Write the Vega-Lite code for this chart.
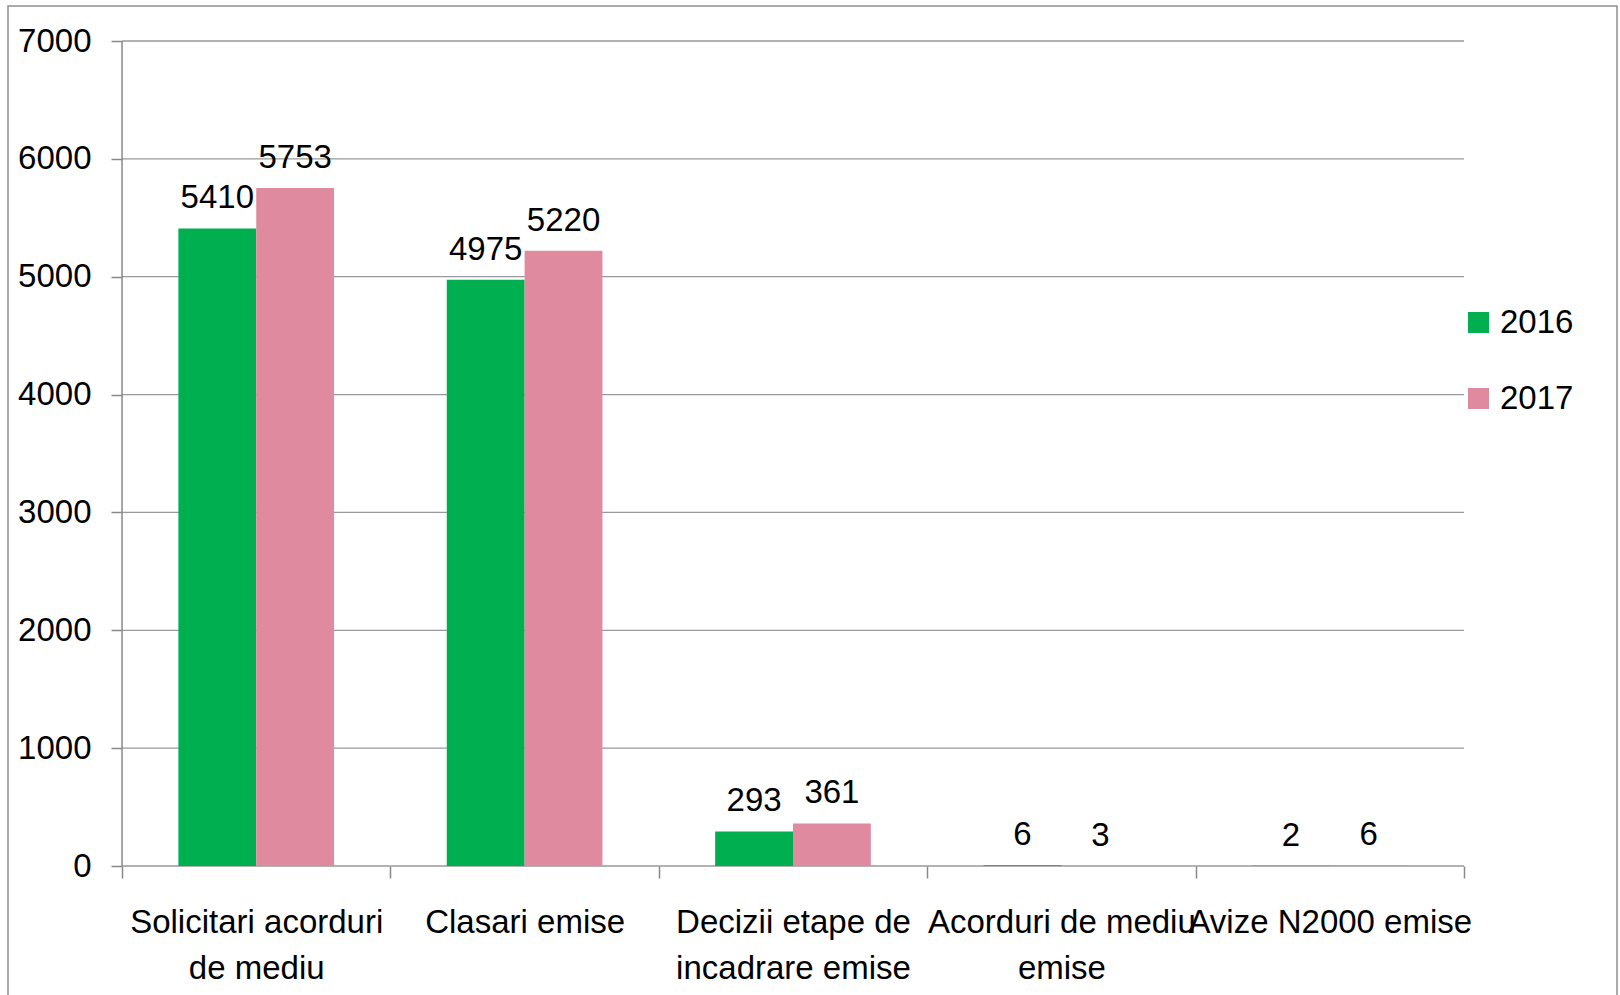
{
  "$schema": "https://vega.github.io/schema/vega-lite/v6.json",
  "width": 1609,
  "height": 995,
  "autosize": {"type": "none"},
  "padding": {"left": 8, "top": 6, "right": 3, "bottom": 0},
  "background": "white",
  "config": {
    "font": "Liberation Sans",
    "view": {"stroke": "#8E8E8E", "strokeWidth": 1.5},
    "axis": {"labelFont": "Liberation Sans", "labelColor": "black", "labelFontSize": 33, "domain": false, "tickColor": "#888888", "tickWidth": 1.5, "grid": false, "title": null},
    "legend": {"labelFont": "Liberation Sans"}
  },
  "datasets": {
    "bars": [
      {"cat": "Solicitari acorduri de mediu", "year": "2016", "value": 5410},
      {"cat": "Solicitari acorduri de mediu", "year": "2017", "value": 5753},
      {"cat": "Clasari emise", "year": "2016", "value": 4975},
      {"cat": "Clasari emise", "year": "2017", "value": 5220},
      {"cat": "Decizii etape de incadrare emise", "year": "2016", "value": 293},
      {"cat": "Decizii etape de incadrare emise", "year": "2017", "value": 361},
      {"cat": "Acorduri de mediu emise", "year": "2016", "value": 6},
      {"cat": "Acorduri de mediu emise", "year": "2017", "value": 3},
      {"cat": "Avize N2000 emise", "year": "2016", "value": 2},
      {"cat": "Avize N2000 emise", "year": "2017", "value": 6}
    ],
    "grid": [
      {"g": 0}, {"g": 1000}, {"g": 2000}, {"g": 3000}, {"g": 4000}, {"g": 5000}, {"g": 6000}, {"g": 7000}
    ]
  },
  "resolve": {"scale": {"x": "shared", "y": "shared"}},
  "layer": [
    {
      "data": {"name": "grid"},
      "mark": {"type": "rule", "color": "#999999", "strokeWidth": 1.3},
      "encoding": {
        "x": {"datum": "Solicitari acorduri de mediu", "bandPosition": 0},
        "x2": {"datum": "Avize N2000 emise", "bandPosition": 1},
        "y": {"field": "g", "type": "quantitative"}
      }
    },
    {
      "data": {"name": "grid"},
      "transform": [{"filter": "datum.g == 0"}],
      "mark": {"type": "rule", "color": "#888888", "strokeWidth": 1.5},
      "encoding": {
        "x": {"datum": "Solicitari acorduri de mediu", "bandPosition": 0},
        "y": {"datum": 0},
        "y2": {"datum": 7000}
      }
    },
    {
      "data": {"name": "bars"},
      "mark": {"type": "bar"},
      "encoding": {
        "x": {
          "field": "cat", "type": "nominal", "sort": null,
          "scale": {"domain": ["Solicitari acorduri de mediu", "Clasari emise", "Decizii etape de incadrare emise", "Acorduri de mediu emise", "Avize N2000 emise"], "paddingInner": 0, "paddingOuter": 0.4975, "align": 0.427},
          "axis": {
            "labelAngle": 0, "labelAlign": "center", "tickBand": "extent", "tickSize": 12, "labelPadding": 54, "offset": -135,
            "labelBaseline": "alphabetic", "labelLineHeight": 46, "labelLimit": 400,
            "labelExpr": "datum.label == 'Solicitari acorduri de mediu' ? ['Solicitari acorduri', 'de mediu'] : datum.label == 'Decizii etape de incadrare emise' ? ['Decizii etape de', 'incadrare emise'] : datum.label == 'Acorduri de mediu emise' ? ['Acorduri de mediu', 'emise'] : datum.label"
          }
        },
        "xOffset": {"field": "year", "type": "nominal", "scale": {"paddingInner": 0, "paddingOuter": 0.724}},
        "y": {
          "field": "value", "type": "quantitative",
          "scale": {"domain": [-1145.45, 7296.97], "nice": false, "zero": false},
          "axis": {"values": [0, 1000, 2000, 3000, 4000, 5000, 6000, 7000], "format": "d", "tickSize": 11, "labelPadding": 20, "offset": -114}
        },
        "color": {
          "field": "year", "type": "nominal",
          "scale": {"domain": ["2016", "2017"], "range": ["#00AF50", "#E08A9F"]},
          "legend": {
            "title": null, "orient": "none", "legendX": 1454, "legendY": 300,
            "symbolType": "square", "symbolSize": 441, "symbolStrokeWidth": 0,
            "labelFontSize": 33, "labelColor": "black", "labelOffset": 5, "rowPadding": 42, "labelLimit": 200
          }
        }
      }
    },
    {
      "data": {"name": "bars"},
      "mark": {"type": "text", "baseline": "alphabetic", "dy": -20, "fontSize": 33, "color": "black"},
      "encoding": {
        "x": {"field": "cat", "type": "nominal", "sort": null},
        "xOffset": {"field": "year", "type": "nominal"},
        "y": {"field": "value", "type": "quantitative"},
        "text": {"field": "value", "type": "quantitative"}
      }
    }
  ]
}
